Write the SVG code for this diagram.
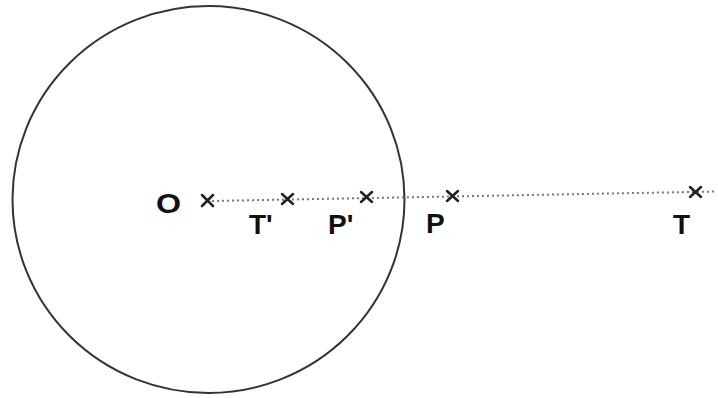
<svg xmlns="http://www.w3.org/2000/svg" width="718" height="398" viewBox="0 0 718 398">
<style>
.lbl{font-family:"Liberation Sans",Arial,sans-serif;font-weight:bold;font-size:28px;fill:#111}
.x{stroke:#222;stroke-width:2.5;stroke-linecap:round}
</style>
<rect width="718" height="398" fill="#fff"/>
<ellipse cx="208.5" cy="199.5" rx="196" ry="193.5" fill="none" stroke="#333" stroke-width="2"/>
<g id="connectors">
<line x1="212" y1="201" x2="716" y2="191.5" stroke="#777" stroke-width="2" stroke-dasharray="2,3"/>
</g>
<g id="O"><path class="x" d="M202,195 L213,206 M213,195 L202,206"/><text class="lbl" x="156" y="213" transform="translate(156 213) scale(1.15 1) translate(-156 -213)">O</text></g>
<g id="Tp"><path class="x" d="M282,194 L293,204 M293,194 L282,204"/><text class="lbl" x="249" y="234">T'</text></g>
<g id="Pp"><path class="x" d="M361,192 L372,202 M372,192 L361,202"/><text class="lbl" x="328" y="234">P'</text></g>
<g id="P"><path class="x" d="M447,191 L458,201 M458,191 L447,201"/><text class="lbl" x="426" y="233">P</text></g>
<g id="T"><path class="x" d="M690,187 L701,197 M701,187 L690,197"/><text class="lbl" x="673" y="234">T</text></g>
</svg>
